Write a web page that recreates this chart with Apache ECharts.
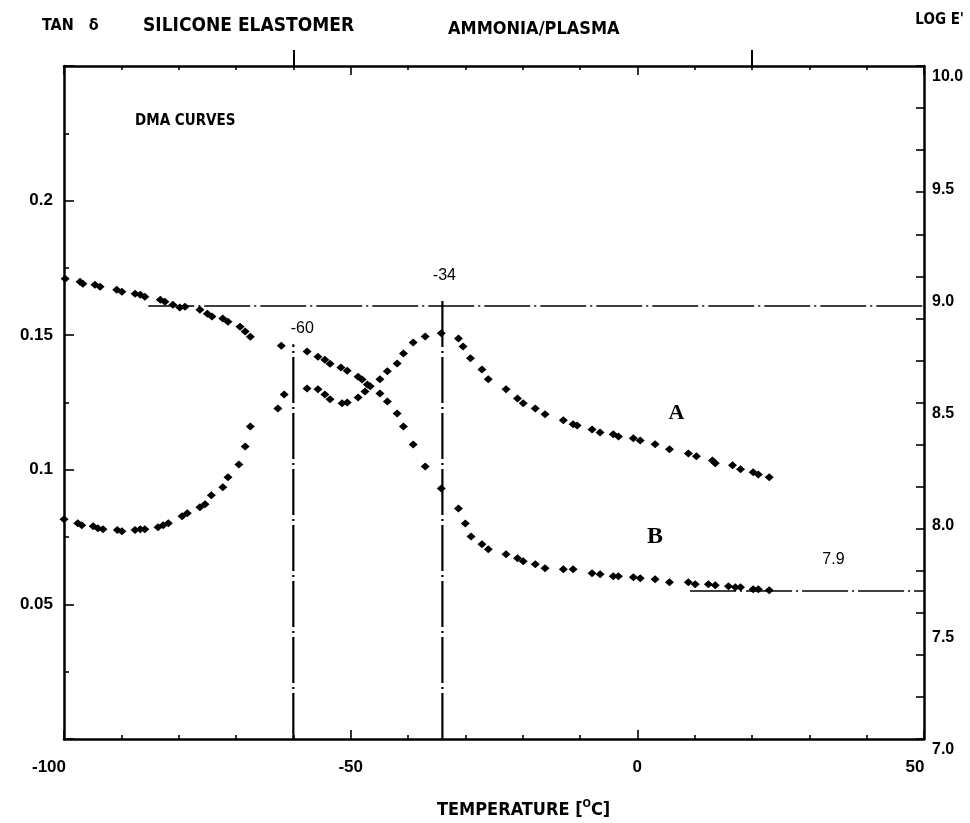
<!DOCTYPE html>
<html>
<head>
<meta charset="utf-8">
<script src="https://cdn.jsdelivr.net/npm/echarts@6/dist/echarts.min.js"></script>
<style>
  html, body { margin: 0; padding: 0; background: #fff; }
  #chart { width: 970px; height: 823px; }
</style>
</head>
<body>
<div id="chart"></div>
<script>
// Curve A: loss tangent (left axis) against temperature
const tempA = [-100, -97.6, -96.9, -94.9, -94.1, -93.2, -90.7, -89.9, -87.6, -86.7, -85.9, -83.6, -82.7, -81.8,
  -79.4, -78.5, -76.3, -75.4, -74.3, -72.3, -71.4, -69.5, -68.4, -67.5, -62.7, -61.6, -57.6, -55.7, -54.5, -53.6,
  -51.5, -50.6, -48.7, -47.5, -46.6, -44.9, -43.6, -41.9, -40.8, -39.1, -37.0, -34.2, -31.2, -30.4, -29.1, -27.1,
  -26.0, -22.9, -20.9, -19.9, -17.8, -16.1, -12.9, -11.2, -10.5, -7.9, -6.5, -4.2, -3.3, -0.7, 0.5, 3.1, 5.6, 8.9,
  10.3, 13.1, 13.6, 16.6, 18.0, 20.2, 21.1, 23.0];
const tanDeltaA = [0.0816, 0.0801, 0.0794, 0.0790, 0.0783, 0.0779, 0.0776, 0.0772, 0.0776, 0.0779, 0.0779, 0.0787,
  0.0794, 0.0801, 0.0827, 0.0839, 0.0861, 0.0872, 0.0905, 0.0935, 0.0972, 0.1020, 0.1087, 0.1161, 0.1228, 0.1280,
  0.1302, 0.1299, 0.1280, 0.1262, 0.1247, 0.1250, 0.1269, 0.1291, 0.1310, 0.1336, 0.1366, 0.1395, 0.1432, 0.1473,
  0.1495, 0.1507, 0.1488, 0.1458, 0.1414, 0.1373, 0.1336, 0.1299, 0.1265, 0.1247, 0.1228, 0.1206, 0.1184, 0.1169,
  0.1165, 0.1150, 0.1139, 0.1132, 0.1124, 0.1117, 0.1109, 0.1095, 0.1076, 0.1061, 0.1050, 0.1035, 0.1024, 0.1017,
  0.1002, 0.0991, 0.0983, 0.0972];

// Curve B: storage modulus, log E' (right axis) against temperature
const tempB = [-99.8, -97.2, -96.7, -94.6, -93.7, -90.8, -89.9, -87.6, -86.7, -85.9, -83.2, -82.4, -81.0, -79.8,
  -78.9, -76.3, -75.0, -74.2, -72.3, -71.4, -69.3, -68.4, -67.5, -62.1, -57.6, -55.7, -54.5, -53.6, -51.7, -50.6,
  -48.7, -48.0, -47.1, -44.9, -43.6, -41.9, -40.8, -39.1, -37.0, -34.2, -31.2, -30.0, -29.0, -27.1, -26.0, -22.9,
  -20.9, -19.9, -17.8, -16.1, -12.9, -11.2, -7.9, -6.5, -4.2, -3.3, -0.7, 0.5, 3.1, 5.6, 8.9, 10.1, 12.4, 13.6,
  15.9, 17.1, 18.0, 20.2, 21.1, 23.0];
const logEB = [9.052, 9.038, 9.029, 9.025, 9.016, 9.003, 8.994, 8.985, 8.980, 8.971, 8.958, 8.949, 8.936, 8.923,
  8.927, 8.914, 8.896, 8.883, 8.874, 8.860, 8.838, 8.816, 8.793, 8.753, 8.727, 8.704, 8.691, 8.673, 8.656, 8.642,
  8.615, 8.602, 8.580, 8.540, 8.504, 8.451, 8.393, 8.313, 8.215, 8.117, 8.028, 7.961, 7.903, 7.868, 7.846, 7.823,
  7.806, 7.792, 7.779, 7.761, 7.757, 7.757, 7.739, 7.734, 7.725, 7.725, 7.721, 7.717, 7.712, 7.699, 7.699, 7.690,
  7.690, 7.685, 7.681, 7.677, 7.677, 7.668, 7.668, 7.663];

// Axis tick labels
const tempTicks = [-100, -50, 0, 50];
const tanTicks = [0.05, 0.1, 0.15, 0.2];
const logTicks = [7.0, 7.5, 8.0, 8.5, 9.0, 9.5, 10.0];

// Transition markers (temperature, top of the guide line in log E')
const transitionTemps = [-60, -34];
const transitionTops = [8.76, 8.96];

// Plateau guide lines in log E'
const glassyLevel = 8.93, glassyFrom = -85.3;
const rubberyLevel = 7.66, rubberyFrom = 9.2, rubberyText = '7.9';

// Top-edge reference ticks (temperature)
const topMarks = [-60, 20];
const rightTickDivisions = 16;

const SANS = "'Liberation Sans', Arial, sans-serif";
const COND = "'DejaVu Sans Condensed', 'Liberation Sans Narrow', sans-serif";
const SERIF = "'Liberation Serif', 'DejaVu Serif', serif";
const INK = '#000';
const dashDot = [46, 4, 2, 4];

const chart = echarts.init(document.getElementById('chart'), null, { renderer: 'canvas' });

const axisLine = { show: true, onZero: false, lineStyle: { color: INK, width: 2.5 } };
const noLine = { show: false, onZero: false };
const tickStyle = { color: INK, width: 1.6 };

function guide(points, yIndex, width) {
  return {
    type: 'line', xAxisIndex: 0, yAxisIndex: yIndex, data: points, symbol: 'none', silent: true,
    clip: false, animation: false,
    lineStyle: { color: INK, width: width, type: dashDot, opacity: 1 }
  };
}

const series = [
  {
    name: 'A', type: 'scatter', xAxisIndex: 0, yAxisIndex: 0,
    symbol: 'diamond', symbolSize: [9, 8], itemStyle: { color: INK, opacity: 1 },
    data: tempA.map((t, i) => [t, tanDeltaA[i]]), animation: false
  },
  {
    name: 'B', type: 'scatter', xAxisIndex: 0, yAxisIndex: 1,
    symbol: 'diamond', symbolSize: [9, 8], itemStyle: { color: INK, opacity: 1 },
    data: tempB.map((t, i) => [t, logEB[i]]), animation: false
  },
  guide([[glassyFrom, glassyLevel], [50, glassyLevel]], 1, 1.6),
  guide([[rubberyFrom, rubberyLevel], [50, rubberyLevel]], 1, 1.6)
];

transitionTemps.forEach((t, i) => {
  series.push(guide([[t, 7], [t, transitionTops[i]]], 1, 2.2));
});

// Text annotations placed in data coordinates
const noteItems = [
  { value: [transitionTemps[0], transitionTops[0]], label: { formatter: String(transitionTemps[0]), offset: [9, -16] } },
  { value: [transitionTemps[1], transitionTops[1]], label: { formatter: String(transitionTemps[1]), offset: [2, -24] } },
  { value: [6.8, 8.45], label: { formatter: 'A', fontFamily: SERIF, fontWeight: 'bold', fontSize: 22 } },
  { value: [3.1, 7.90], label: { formatter: 'B', fontFamily: SERIF, fontWeight: 'bold', fontSize: 24 } },
  { value: [34.2, 7.80], label: { formatter: rubberyText } }
];
series.push({
  type: 'scatter', xAxisIndex: 0, yAxisIndex: 1, symbolSize: 0, silent: true, animation: false,
  itemStyle: { opacity: 1 },
  data: noteItems,
  label: { show: true, position: 'inside', color: INK, fontFamily: SANS, fontSize: 16 }
});

const option = {
  backgroundColor: '#fff',
  animation: false,
  grid: { left: 64, right: 46, top: 66, bottom: 84, containLabel: false },
  xAxis: [
    {
      type: 'value', position: 'bottom', min: -100, max: 50, interval: 50,
      axisLine: axisLine,
      axisTick: { show: true, inside: true, length: 9, lineStyle: tickStyle },
      minorTick: { show: true, splitNumber: 5, length: 4, lineStyle: tickStyle },
      splitLine: { show: false },
      axisLabel: {
        show: true, margin: 20, color: INK, fontFamily: SANS, fontWeight: 'bold', fontSize: 17,
        formatter: v => {
          if (!tempTicks.includes(v)) return '';
          if (v === -100) return '{l|' + v + '}';
          if (v === 50) return '{r|' + v + '}';
          return String(v);
        },
        rich: {
          l: { fontFamily: SANS, fontWeight: 'bold', fontSize: 17, color: INK, padding: [0, 30, 0, 0] },
          r: { fontFamily: SANS, fontWeight: 'bold', fontSize: 17, color: INK, padding: [0, 18, 0, 0] }
        }
      }
    },
    {
      type: 'value', position: 'top', min: -100, max: 50, interval: 50,
      axisLine: axisLine,
      axisTick: { show: true, inside: true, length: 9, lineStyle: tickStyle },
      minorTick: { show: true, splitNumber: 5, length: 4, lineStyle: tickStyle },
      splitLine: { show: false },
      axisLabel: { show: false }
    },
    {
      type: 'value', position: 'top', min: -100, max: 50,
      axisLine: noLine,
      axisTick: { show: true, inside: false, length: 16, customValues: topMarks, lineStyle: { color: INK, width: 2 } },
      splitLine: { show: false },
      axisLabel: { show: false, customValues: topMarks }
    }
  ],
  yAxis: [
    {
      type: 'value', position: 'left', min: 0, max: 0.25, interval: 0.05,
      axisLine: axisLine,
      axisTick: { show: true, inside: true, length: 10, lineStyle: tickStyle },
      minorTick: { show: true, splitNumber: 2, length: 5, lineStyle: tickStyle },
      splitLine: { show: false },
      axisLabel: {
        show: true, margin: 11, color: INK, fontFamily: SANS, fontWeight: 'bold', fontSize: 17,
        formatter: v => {
          const r = Math.round(v * 1000) / 1000;
          return tanTicks.includes(r) ? String(r) : '';
        }
      }
    },
    {
      type: 'value', position: 'right', min: 7, max: 10, interval: 0.5,
      axisLine: axisLine,
      axisTick: { show: false },
      splitLine: { show: false },
      axisLabel: {
        show: true, margin: 8, color: INK, fontFamily: SANS, fontWeight: 'bold', fontSize: 16,
        verticalAlign: 'top', padding: [3, 0, 0, 0],
        formatter: v => {
          const r = Math.round(v * 10) / 10;
          return logTicks.includes(r) ? r.toFixed(1) : '';
        }
      }
    },
    {
      type: 'value', position: 'right', min: 0, max: rightTickDivisions, interval: 1,
      axisLine: noLine,
      axisTick: { show: true, inside: true, length: 8, lineStyle: tickStyle },
      splitLine: { show: false },
      axisLabel: { show: false }
    }
  ],
  graphic: [
    { type: 'text', left: 42, top: 18, style: { text: 'TAN   δ', fill: INK, font: "bold 16px " + COND } },
    { type: 'text', left: 143, top: 17, style: { text: 'SILICONE ELASTOMER', fill: INK, font: "bold 19px " + COND } },
    { type: 'text', left: 448, top: 20, style: { text: 'AMMONIA/PLASMA', fill: INK, font: "bold 18px " + COND } },
    { type: 'text', right: 6, top: 13, style: { text: "LOG E'", fill: INK, font: "bold 15px " + COND } },
    { type: 'text', left: 135, top: 114, style: { text: 'DMA CURVES', fill: INK, font: "bold 15px " + COND } },
    {
      type: 'text', left: 437, top: 799,
      style: {
        text: '{t|TEMPERATURE [}{s|O}{t|C]}',
        rich: {
          t: { fill: INK, font: "bold 18px " + COND },
          s: { fill: INK, font: "bold 11px " + COND, padding: [0, 0, 11, 0] }
        }
      }
    }
  ],
  series: series
};

chart.setOption(option);
</script>
</body>
</html>
